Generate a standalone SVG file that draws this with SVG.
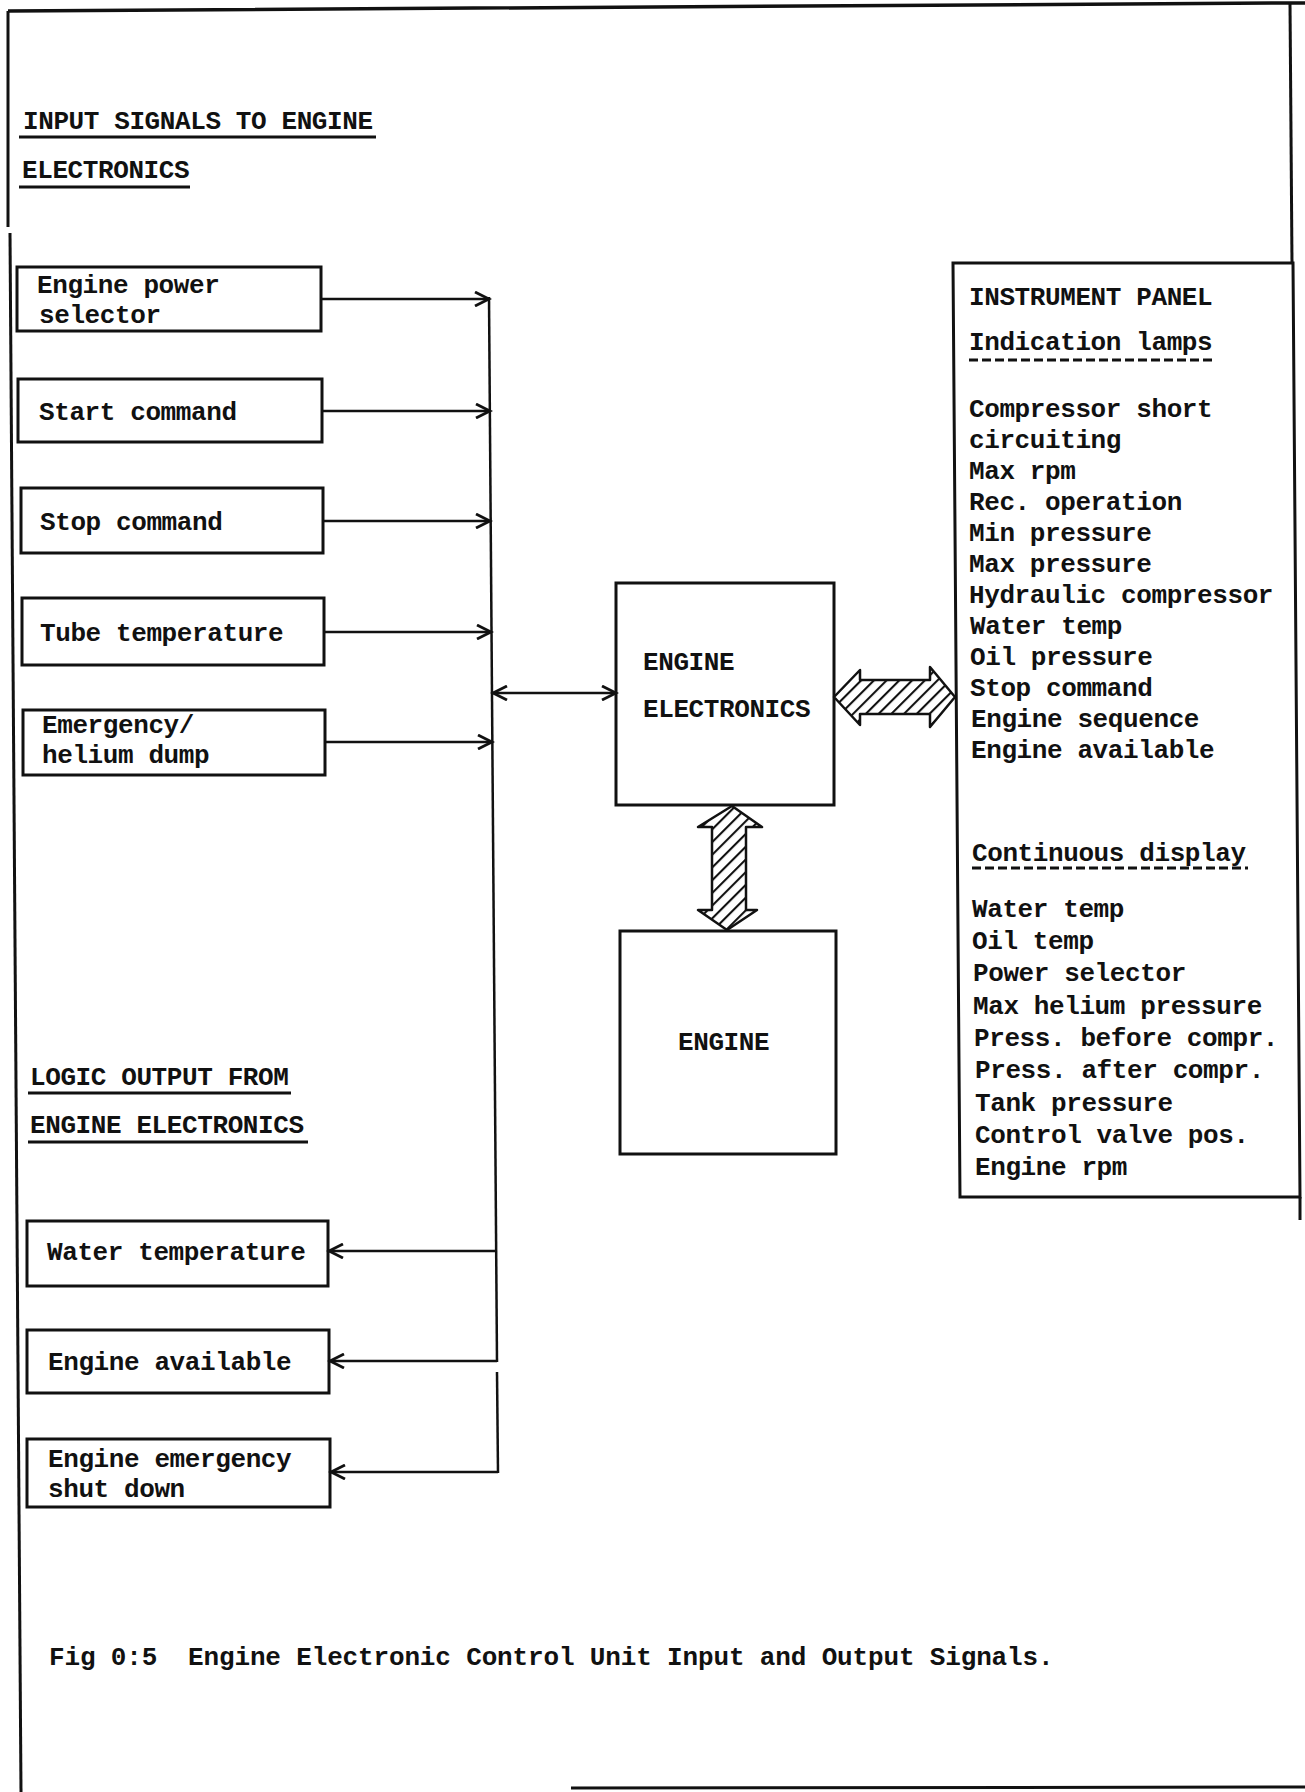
<svg xmlns="http://www.w3.org/2000/svg" width="1305" height="1792" viewBox="0 0 1305 1792">
<defs>
<style>
text{font-family:"Liberation Mono","DejaVu Sans Mono",monospace;font-size:26px;font-weight:bold;fill:#111;letter-spacing:-0.4px}
.box{fill:none;stroke:#111;stroke-width:3}
.ln{fill:none;stroke:#111;stroke-width:2.5}
.ul{stroke:#111;stroke-width:3}
.dul{stroke:#111;stroke-width:3;stroke-dasharray:9 4}
.hat{fill:url(#hatch);stroke:#111;stroke-width:2.5;stroke-linejoin:round}
.frame{fill:none;stroke:#111;stroke-width:3}
</style>
<pattern id="hatch" patternUnits="userSpaceOnUse" width="9" height="9" patternTransform="rotate(45)">
<rect width="9" height="9" fill="#fff"/>
<line x1="1" y1="0" x2="1" y2="9" stroke="#111" stroke-width="2.2"/>
</pattern>
<marker id="ah" markerUnits="userSpaceOnUse" markerWidth="18" markerHeight="16" refX="15" refY="8" orient="auto-start-reverse" viewBox="0 0 18 16">
<path d="M1,1 L15,8 L1,15" fill="none" stroke="#111" stroke-width="2.8"/>
</marker>
</defs>
<rect width="1305" height="1792" fill="#fff"/>

<g id="frame">
<path class="frame" d="M8,11 L1290,3 L1305,3" style="stroke-width:3.5"/>
<path class="frame" d="M8,11 L8,227"/>
<path class="frame" d="M10,233 L21,1792"/>
<path class="frame" d="M1290,3 L1292,263"/>
<path class="frame" d="M571,1788 L1305,1787"/>
</g>

<g id="heading-input">
<text x="23" y="129">INPUT SIGNALS TO ENGINE</text>
<line class="ul" x1="19" y1="137" x2="376" y2="137"/>
<text x="22" y="178">ELECTRONICS</text>
<line class="ul" x1="19" y1="187" x2="190" y2="187"/>
</g>

<g id="node-engine-power-selector">
<rect class="box" x="17" y="267" width="304" height="64"/>
<text x="37" y="293">Engine power</text>
<text x="39" y="323">selector</text>
</g>
<g id="node-start-command">
<rect class="box" x="18" y="379" width="304" height="63"/>
<text x="39" y="420">Start command</text>
</g>
<g id="node-stop-command">
<rect class="box" x="21" y="488" width="302" height="65"/>
<text x="40" y="530">Stop command</text>
</g>
<g id="node-tube-temperature">
<rect class="box" x="22" y="598" width="302" height="67"/>
<text x="40" y="641">Tube temperature</text>
</g>
<g id="node-emergency-helium-dump">
<rect class="box" x="23" y="710" width="302" height="65"/>
<text x="42" y="733">Emergency/</text>
<text x="42" y="763">helium dump</text>
</g>

<g id="heading-output">
<text x="30" y="1085">LOGIC OUTPUT FROM</text>
<line class="ul" x1="28" y1="1093" x2="291" y2="1093"/>
<text x="30" y="1133">ENGINE ELECTRONICS</text>
<line class="ul" x1="28" y1="1142" x2="308" y2="1142"/>
</g>

<g id="node-water-temperature">
<rect class="box" x="27" y="1221" width="301" height="65"/>
<text x="47" y="1260">Water temperature</text>
</g>
<g id="node-engine-available">
<rect class="box" x="27" y="1330" width="302" height="63"/>
<text x="48" y="1370">Engine available</text>
</g>
<g id="node-engine-emergency-shut-down">
<rect class="box" x="27" y="1439" width="303" height="68"/>
<text x="48" y="1467">Engine emergency</text>
<text x="48" y="1497">shut down</text>
</g>

<g id="node-engine-electronics">
<rect class="box" x="616" y="583" width="218" height="222"/>
<text x="643" y="670">ENGINE</text>
<text x="643" y="717">ELECTRONICS</text>
</g>

<g id="node-engine">
<rect class="box" x="620" y="931" width="216" height="223"/>
<text x="678" y="1050">ENGINE</text>
</g>

<g id="node-instrument-panel">
<path class="box" d="M953,263 L1293,263 L1300,1197 L960,1197 Z"/>
<path class="frame" d="M1300,1197 L1300,1220"/>
<text x="969" y="305">INSTRUMENT PANEL</text>
<text x="969" y="350">Indication lamps</text>
<line class="dul" x1="969" y1="360" x2="1213" y2="360"/>
<text x="969" y="417">Compressor short</text>
<text x="969" y="448">circuiting</text>
<text x="969" y="479">Max rpm</text>
<text x="969" y="510">Rec. operation</text>
<text x="969" y="541">Min pressure</text>
<text x="969" y="572">Max pressure</text>
<text x="969" y="603">Hydraulic compressor</text>
<text x="970" y="634">Water temp</text>
<text x="970" y="665">Oil pressure</text>
<text x="970" y="696">Stop command</text>
<text x="971" y="727">Engine sequence</text>
<text x="971" y="758">Engine available</text>
<text x="972" y="861">Continuous display</text>
<line class="dul" x1="972" y1="868" x2="1248" y2="868"/>
<text x="972" y="917">Water temp</text>
<text x="972" y="949">Oil temp</text>
<text x="973" y="981">Power selector</text>
<text x="973" y="1014">Max helium pressure</text>
<text x="974" y="1046">Press. before compr.</text>
<text x="975" y="1078">Press. after compr.</text>
<text x="975" y="1111">Tank pressure</text>
<text x="975" y="1143">Control valve pos.</text>
<text x="975" y="1175">Engine rpm</text>
</g>

<g id="connectors">
<path class="ln" d="M489,297 L497,1362"/>
<path class="ln" d="M497,1372 L498,1473"/>
<line class="ln" x1="321" y1="299" x2="489" y2="299" marker-end="url(#ah)"/>
<line class="ln" x1="322" y1="411" x2="490" y2="411" marker-end="url(#ah)"/>
<line class="ln" x1="323" y1="521" x2="490" y2="521" marker-end="url(#ah)"/>
<line class="ln" x1="324" y1="632" x2="491" y2="632" marker-end="url(#ah)"/>
<line class="ln" x1="325" y1="742" x2="492" y2="742" marker-end="url(#ah)"/>
<line class="ln" x1="493" y1="693" x2="616" y2="693" marker-start="url(#ah)" marker-end="url(#ah)"/>
<line class="ln" x1="497" y1="1251" x2="329" y2="1251" marker-end="url(#ah)"/>
<line class="ln" x1="497" y1="1361" x2="330" y2="1361" marker-end="url(#ah)"/>
<line class="ln" x1="498" y1="1472" x2="331" y2="1472" marker-end="url(#ah)"/>
<path class="hat" d="M834,697 L860,670 L860,680 L930,680 L930,667 L955,697 L930,727 L930,714 L860,714 L860,725 Z"/>
<path class="hat" d="M732,806 L762,827 L746,827 L746,910 L757,910 L727,930 L698,910 L712,910 L712,827 L698,827 Z"/>
</g>

<g id="caption">
<text x="49" y="1665" xml:space="preserve" style="letter-spacing:-0.15px">Fig 0:5  Engine Electronic Control Unit Input and Output Signals.</text>
</g>
</svg>
